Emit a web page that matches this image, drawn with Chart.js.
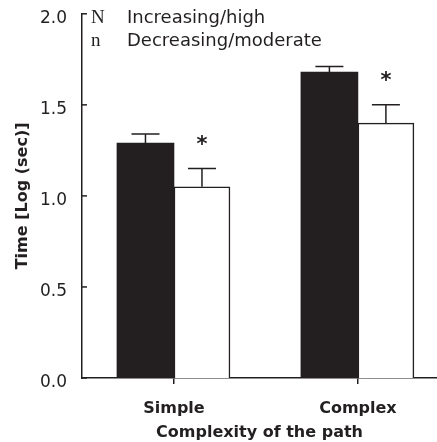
<!DOCTYPE html>
<html lang="en">
<head>
    <meta charset="UTF-8">
    <title>Time by path complexity</title>
    <script src="https://cdn.jsdelivr.net/npm/chart.js"></script>
    <style>
        body { margin: 0; background: #fff; }
        .wrap { width: 437px; height: 442px; }
    </style>
</head>
<body>
    <div class="wrap"><canvas id="chart" width="437" height="442"></canvas></div>

    <script>
        // values (log seconds)
        const categories = ["Simple", "Complex"];
        const increasingHigh = [1.29, 1.68];
        const increasingErr = [0.05, 0.03];
        const decreasingModerate = [1.05, 1.40];
        const decreasingErr = [0.10, 0.10];
        const decreasingStar = [true, true];
        const yTicks = [0, 0.5, 1.0, 1.5, 2.0];
        const legendMarks = ["N", "n"];
        const legendNames = ["Increasing/high", "Decreasing/moderate"];

        const ink = "#231f20";
        const sans = "'DejaVu Sans', Arial, sans-serif";

        const toPoints = vals => vals.map((v, i) => ({ x: i + 1, y: v }));

        // error bars (upward only) + asterisks
        const errorBars = {
            id: "errorBars",
            afterDatasetsDraw(chart) {
                const ctx = chart.ctx;
                const y = chart.scales.y;
                const errs = [increasingErr, decreasingErr];
                const stars = [null, decreasingStar];
                ctx.save();
                ctx.strokeStyle = ink;
                ctx.lineWidth = 1.5;
                chart.data.datasets.forEach((ds, d) => {
                    const meta = chart.getDatasetMeta(d);
                    meta.data.forEach((bar, i) => {
                        const top = y.getPixelForValue(ds.data[i].y + errs[d][i]);
                        ctx.beginPath();
                        ctx.moveTo(bar.x, bar.y);
                        ctx.lineTo(bar.x, top);
                        ctx.moveTo(bar.x - 14, top);
                        ctx.lineTo(bar.x + 14, top);
                        ctx.stroke();
                        if (stars[d] && stars[d][i]) {
                            ctx.fillStyle = ink;
                            ctx.font = "bold 21px " + sans;
                            ctx.textAlign = "center";
                            ctx.textBaseline = "middle";
                            ctx.fillText("*", bar.x, top - 23);
                        }
                    });
                });
                ctx.restore();
            }
        };

        // inward y ticks and the letter legend
        const decor = {
            id: "decor",
            afterDraw(chart) {
                const ctx = chart.ctx;
                const y = chart.scales.y;
                const left = chart.chartArea.left;
                ctx.save();
                ctx.strokeStyle = ink;
                ctx.lineWidth = 1.5;
                yTicks.forEach(v => {
                    const p = y.getPixelForValue(v);
                    ctx.beginPath();
                    ctx.moveTo(left, p);
                    ctx.lineTo(left + 5, p);
                    ctx.stroke();
                });
                ctx.fillStyle = ink;
                ctx.textBaseline = "alphabetic";
                ctx.textAlign = "left";
                legendMarks.forEach((m, i) => {
                    const base = 23 + i * 23;
                    ctx.font = "19px 'Liberation Serif', 'DejaVu Serif', serif";
                    ctx.fillText(m, 91, base);
                    ctx.font = "18px " + sans;
                    ctx.fillText(legendNames[i], 127, base);
                });
                ctx.restore();
            }
        };

        new Chart(document.getElementById("chart"), {
            type: "bar",
            data: {
                datasets: [
                    {
                        label: legendNames[0],
                        data: toPoints(increasingHigh),
                        backgroundColor: ink,
                        borderWidth: 0,
                        barThickness: 57
                    },
                    {
                        label: legendNames[1],
                        data: toPoints(decreasingModerate),
                        backgroundColor: "#fff",
                        borderColor: ink,
                        borderWidth: 1.5,
                        barThickness: 56
                    }
                ]
            },
            options: {
                responsive: false,
                animation: false,
                layout: { padding: { top: 6, right: 0, left: 0, bottom: 0 } },
                plugins: { legend: { display: false }, tooltip: { enabled: false } },
                scales: {
                    x: {
                        type: "linear",
                        min: 0.5,
                        max: 2.43,
                        offset: false,
                        afterBuildTicks: s => { s.ticks = categories.map((c, i) => ({ value: i + 1 })); },
                        afterFit: s => { s.height = 64; },
                        border: { color: ink, width: 1.5 },
                        grid: { offset: false, drawOnChartArea: false, drawTicks: true, tickLength: 6, color: ink, lineWidth: 1.5 },
                        ticks: {
                            callback: v => categories[v - 1],
                            color: ink,
                            font: { family: sans, size: 16, weight: "bold" },
                            padding: 15,
                            maxRotation: 0
                        },
                        title: {
                            display: true,
                            text: "Complexity of the path",
                            color: ink,
                            font: { family: sans, size: 16, weight: "bold" },
                            padding: { top: 0, bottom: 0 }
                        }
                    },
                    y: {
                        min: 0,
                        max: 2,
                        afterBuildTicks: s => { s.ticks = yTicks.map(v => ({ value: v })); },
                        afterFit: s => { s.width = 82; },
                        border: { color: ink, width: 1.5 },
                        grid: { display: false },
                        ticks: {
                            callback: v => v.toFixed(1),
                            color: ink,
                            font: { family: sans, size: 17, lineHeight: 0.8 },
                            padding: 7,
                            labelOffset: 5
                        },
                        title: {
                            display: true,
                            text: "Time [Log (sec)]",
                            color: ink,
                            font: { family: sans, size: 16, weight: "bold" },
                            padding: { top: 13, bottom: 4 }
                        }
                    }
                }
            },
            plugins: [errorBars, decor]
        });
    </script>
</body>
</html>
